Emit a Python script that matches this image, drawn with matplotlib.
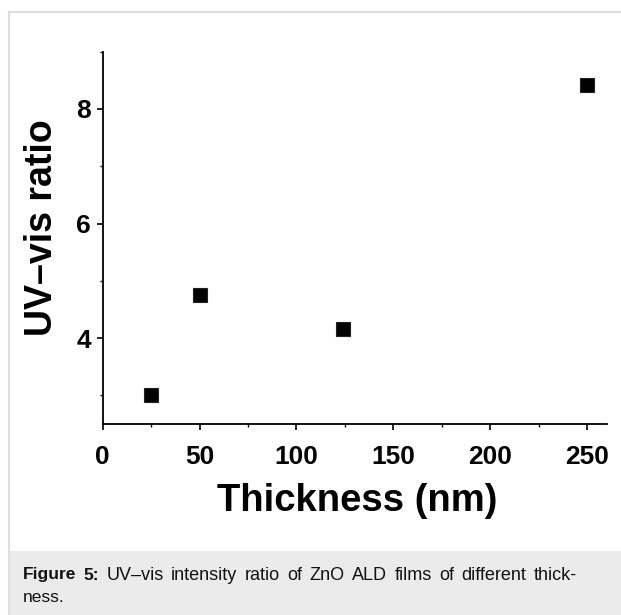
import matplotlib
matplotlib.use("Agg")
import matplotlib.pyplot as plt
from matplotlib.patches import Rectangle
from matplotlib.lines import Line2D
from matplotlib.ticker import MultipleLocator

thickness_nm = [25, 50, 124, 250]
uv_vis_ratio = [3.0, 4.75, 4.15, 8.42]
x_ticks = [0, 50, 100, 150, 200, 250]
y_ticks = [4, 6, 8]
x_label = "Thickness (nm)"
y_label = "UV\u2013vis ratio"
caption_bold = "Figure 5:"
caption_rest_line1 = "UV\u2013vis intensity ratio of ZnO ALD films of different thick-"
caption_line2 = "ness."

plt.rcParams['font.family'] = ['Liberation Sans', 'DejaVu Sans']

W, H = 621, 615
fig = plt.figure(figsize=(W / 100, H / 100), dpi=100)
fig.patch.set_facecolor('white')

# Caption box and border
fig.patches.append(Rectangle((9 / W, 0), 1 - 9 / W, (H - 551) / H, transform=fig.transFigure,
                             facecolor='#ebebeb', edgecolor='none', zorder=0))
fig.lines.append(Line2D([8.5 / W, 8.5 / W], [0, (H - 11.5) / H], transform=fig.transFigure,
                        color='#dcdcdc', lw=1.5))
fig.lines.append(Line2D([8.5 / W, 1], [(H - 11.5) / H, (H - 11.5) / H], transform=fig.transFigure,
                        color='#dcdcdc', lw=1.5))

left, right, top, bottom = 102.6, 606.7, 51.7, 424.0
ax = fig.add_axes([left / W, (H - bottom) / H, (right - left) / W, (bottom - top) / H])
ax.plot(thickness_nm, uv_vis_ratio, 's', color='black', markersize=9.5, mec='#222222', mew=0.8)

ax.set_xlim(0, 260)
ax.set_ylim(2.5, 9)
ax.set_xticks(x_ticks)
ax.set_yticks(y_ticks)
ax.xaxis.set_minor_locator(MultipleLocator(25))
ax.yaxis.set_minor_locator(MultipleLocator(1))
for s in ['top', 'right']:
    ax.spines[s].set_visible(False)
for s in ['left', 'bottom']:
    ax.spines[s].set_linewidth(1.3)
ax.tick_params(which='major', direction='out', length=4.5, width=1.2, labelsize=19)
ax.tick_params(axis='x', which='major', pad=10.5)
ax.tick_params(axis='y', which='major', pad=4)
ax.tick_params(which='minor', direction='out', length=2.5, width=1.0)
for lab in ax.get_xticklabels() + ax.get_yticklabels():
    lab.set_fontweight('bold')

ax.set_xlabel(x_label, fontsize=27.5, fontweight='bold')
ax.set_ylabel(y_label, fontsize=27, fontweight='bold')
ax.xaxis.set_label_coords((357 - left) / (right - left), (bottom - 483) / (bottom - top))
ax.yaxis.set_label_coords((60 - left) / (right - left), (bottom - 228) / (bottom - top))

# Caption text (line 1 justified)
fig.canvas.draw()
r = fig.canvas.get_renderer()
words = [(w, 'bold', 12.5) for w in caption_bold.split()] + \
        [(w, 'normal', 13.0) for w in caption_rest_line1.split()]
x0, x1 = 23.0, 577.0
y1 = (H - 575) / H
arts = []
for w, wt, fs in words:
    t = fig.text(0, y1, w, fontsize=fs, fontweight=wt, va='center', ha='left', color='#111111')
    arts.append(t)
widths = [a.get_window_extent(renderer=r).width for a in arts]
gap = ((x1 - x0) - sum(widths)) / (len(words) - 1)
x = x0
for a, wd in zip(arts, widths):
    a.set_x(x / W)
    x += wd + gap
fig.text(x0 / W, (H - 597) / H, caption_line2, fontsize=12.5, va='center', ha='left', color='#111111')

fig.savefig('out.png', dpi=100, facecolor='white')
